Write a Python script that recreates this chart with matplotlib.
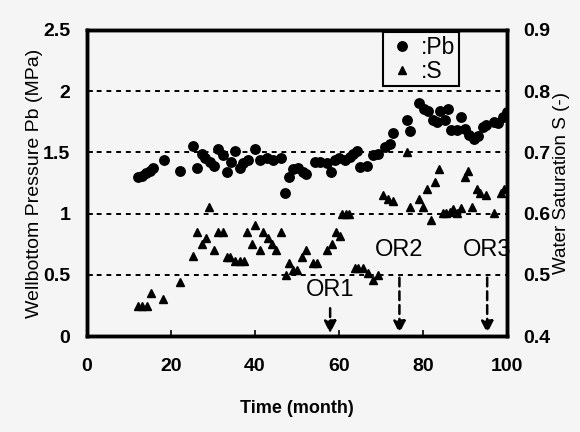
import matplotlib
matplotlib.use("Agg")
import matplotlib.pyplot as plt
from matplotlib.lines import Line2D

# wellbottom pressure Pb (MPa) vs time (month)
pb_month = [12.1, 13.0, 14.0, 15.0, 15.7, 18.3, 22.1, 25.2, 26.1, 27.3, 28.1, 29.3,
            30.2, 31.3, 32.3, 33.3, 34.2, 35.2, 36.4, 37.2, 38.4, 40.0, 41.2, 42.8,
            44.4, 46.2, 47.1, 48.2, 49.1, 50.3, 51.5, 52.1, 54.3, 55.5, 57.1, 58.1,
            59.0, 60.1, 61.4, 62.6, 63.4, 64.2, 65.0, 66.6, 68.2, 69.4, 71.0, 72.1,
            72.9, 76.1, 77.0, 79.1, 80.2, 81.3, 82.3, 83.4, 84.0, 85.2, 86.0, 86.8,
            88.0, 89.0, 90.0, 91.0, 92.1, 93.2, 94.2, 95.1, 96.9, 97.9, 99.1, 99.9]
pb_value = [1.30, 1.31, 1.33, 1.35, 1.37, 1.44, 1.35, 1.55, 1.37, 1.49, 1.45, 1.42,
            1.39, 1.53, 1.48, 1.34, 1.42, 1.51, 1.37, 1.41, 1.44, 1.53, 1.44, 1.45,
            1.44, 1.45, 1.17, 1.30, 1.36, 1.37, 1.34, 1.32, 1.42, 1.42, 1.41, 1.34,
            1.44, 1.45, 1.44, 1.46, 1.49, 1.51, 1.38, 1.39, 1.48, 1.49, 1.54, 1.57,
            1.66, 1.76, 1.67, 1.90, 1.85, 1.84, 1.76, 1.75, 1.84, 1.76, 1.85, 1.68,
            1.68, 1.79, 1.69, 1.64, 1.61, 1.63, 1.71, 1.72, 1.75, 1.74, 1.79, 1.83]

# water saturation S (-) vs time (month)
s_month = [12.2, 13.2, 14.2, 15.2, 18.2, 22.1, 25.2, 26.3, 27.3, 28.3, 29.1, 30.2,
           31.3, 32.3, 33.3, 34.0, 35.2, 36.4, 37.4, 38.2, 39.2, 40.1, 41.2, 42.0,
           43.2, 44.0, 45.0, 46.2, 47.4, 48.2, 49.1, 50.1, 51.1, 52.1, 53.9, 54.8,
           57.2, 58.3, 59.3, 60.2, 60.8, 61.7, 62.5, 63.8, 64.6, 65.8, 66.9, 68.0,
           69.4, 70.6, 71.7, 72.9, 76.1, 76.9, 79.1, 80.1, 81.0, 82.0, 82.9, 83.9,
           84.7, 85.6, 86.4, 87.2, 88.0, 89.0, 90.0, 90.8, 91.8, 92.8, 93.7, 95.0,
           96.9, 98.7, 99.3]
s_value = [0.449, 0.449, 0.449, 0.470, 0.460, 0.489, 0.530, 0.570, 0.551, 0.560, 0.611, 0.540,
           0.570, 0.570, 0.529, 0.529, 0.522, 0.522, 0.522, 0.570, 0.551, 0.582, 0.540, 0.570,
           0.560, 0.551, 0.540, 0.570, 0.500, 0.520, 0.508, 0.508, 0.529, 0.540, 0.520, 0.520,
           0.540, 0.551, 0.570, 0.563, 0.600, 0.600, 0.600, 0.511, 0.511, 0.511, 0.503, 0.492,
           0.500, 0.631, 0.624, 0.620, 0.700, 0.611, 0.623, 0.611, 0.640, 0.590, 0.651, 0.672,
           0.601, 0.601, 0.603, 0.607, 0.601, 0.609, 0.660, 0.670, 0.611, 0.640, 0.633, 0.631,
           0.601, 0.633, 0.640]

# operation events: label, month, arrow start (Pb), label height (Pb)
or_label = ["OR1", "OR2", "OR3"]
or_month = [57.9, 74.4, 95.3]
or_start = [0.25, 0.5, 0.5]
or_text_y = [0.38, 0.70, 0.70]

plt.rcParams["font.family"] = ["Liberation Sans", "DejaVu Sans"]
bg = "#f5f5f5"

fig = plt.figure(figsize=(5.8, 4.32), dpi=100, facecolor=bg)
ax = fig.add_axes([0.150, 0.222, 0.724, 0.709])
ax.set_facecolor(bg)

for yv in [0.5, 1.0, 1.5, 2.0]:
    ax.axhline(yv, color="black", lw=1.4, ls=(0, (2.5, 2.5)), zorder=1)

ax.plot(pb_month, pb_value, "o", color="black", ms=6.8, zorder=3)

ax2 = ax.twinx()
ax2.plot(s_month, s_value, "^", color="black", ms=5.8, zorder=3)
ax2.set_ylim(0.4, 0.9)
ax2.set_yticks([0.4, 0.5, 0.6, 0.7, 0.8, 0.9])
ax2.set_yticklabels(["0.4", "0.5", "0.6", "0.7", "0.8", "0.9"])
ax2.set_ylabel("Water Saturation S (-)", fontsize=13.5, labelpad=2)
ax2.tick_params(axis="y", direction="in", length=0, labelsize=14, pad=12)

for lab, m, y0, ty in zip(or_label, or_month, or_start, or_text_y):
    ax.annotate("", xy=(m, 0.0), xytext=(m, y0),
                arrowprops=dict(arrowstyle="-|>", color="black", lw=1.8,
                                ls=(0, (3.5, 2)), mutation_scale=18), zorder=4)
    ax.text(m, ty, lab, ha="center", va="center", fontsize=17, zorder=4)

ax.set_xlim(0, 100)
ax.set_ylim(0, 2.5)
ax.set_xticks([0, 20, 40, 60, 80, 100])
ax.set_yticks([0, 0.5, 1, 1.5, 2, 2.5])
ax.set_yticklabels(["0", "0.5", "1", "1.5", "2", "2.5"])
ax.tick_params(direction="in", length=4, width=1.2, labelsize=14)
ax.tick_params(axis="x", pad=16)
ax.tick_params(axis="y", pad=12)
for lbl in ax.get_xticklabels() + ax.get_yticklabels() + ax2.get_yticklabels():
    lbl.set_fontweight("bold")
ax.set_xlabel("Time (month)", fontsize=13, fontweight="bold", labelpad=18)
ax.set_ylabel("Wellbottom Pressure Pb (MPa)", fontsize=14, labelpad=0)

for a in (ax, ax2):
    for sp in a.spines.values():
        sp.set_linewidth(2.5)

handles = [Line2D([], [], marker="o", ls="none", color="black", ms=6.8),
           Line2D([], [], marker="^", ls="none", color="black", ms=5.8)]
leg = ax2.legend(handles, [":Pb", ":S"], loc="upper left", bbox_to_anchor=(0.70, 1.0),
                 fontsize=16.5, frameon=True, fancybox=False, handletextpad=0.2,
                 handlelength=1.3, borderpad=0.15, labelspacing=0.05, borderaxespad=0.1)
leg.get_frame().set_edgecolor("black")
leg.get_frame().set_linewidth(1.5)
leg.get_frame().set_facecolor(bg)
leg.get_frame().set_alpha(1)

fig.savefig("out.png", dpi=100, facecolor=bg)
